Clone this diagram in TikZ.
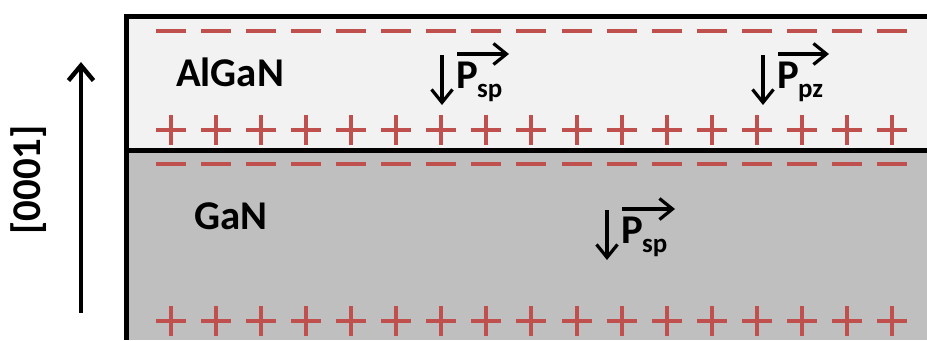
\documentclass[tikz,border=0pt]{standalone}
\usepackage{fontspec}
\setmainfont{Carlito}
\usetikzlibrary{arrows.meta}
\definecolor{chg}{HTML}{C0504D}
\definecolor{alganfill}{HTML}{F2F2F2}
\definecolor{ganfill}{HTML}{BFBFBF}
\tikzset{
  border/.style={line width=5bp, line join=miter},
  charge/.style={chg, line width=4bp},
  big/.style={inner sep=0pt, font=\fontsize{41}{41}\selectfont\bfseries},
  sub/.style={inner sep=0pt, font=\fontsize{27}{27}\selectfont\bfseries},
  polarrow/.style={line width=3.2bp, -{Straight Barb[length=13bp,width=21bp,line width=3.2bp]}},
  axisarrow/.style={line width=4.5bp, -{Straight Barb[length=15bp,width=25bp,line width=4.5bp]}}
}
\begin{document}
\begin{tikzpicture}[x=1bp,y=-1bp]
\useasboundingbox (0,0) rectangle (927,340);
\fill[white] (0,0) rectangle (927,340);
\fill[alganfill] (126,16) rectangle (927,150);
\fill[ganfill] (126,150) rectangle (927,340);
\draw[border] (126,340) -- (126,16.5) -- (927,16.5);
\draw[border] (126,150.5) -- (927,150.5);
% charges
\foreach \k in {0,...,16} {
  \pgfmathsetmacro\xx{171+45.06*\k}
  \draw[charge] (\xx-15,31) -- (\xx+15,31);
  \draw[charge] (\xx-15,164) -- (\xx+15,164);
  \draw[charge] (\xx-15,130) -- (\xx+15,130) (\xx,115) -- (\xx,145);
  \draw[charge] (\xx-15,321) -- (\xx+15,321) (\xx,306) -- (\xx,336);
}
% growth axis
\coordinate (axb) at (81,313);
\coordinate (axt) at (81,62);
\draw[axisarrow] (axb) -- (axt);
\node[big, rotate=90] (dir) at (29,180) {[0001]};
% layer labels
\node[big, anchor=base] (algan) at (230,86) {AlGaN};
\node[big, anchor=base] (gan) at (231,229) {GaN};
% AlGaN Psp
\coordinate (d1a) at (442,55); \coordinate (d1b) at (442,105);
\draw[polarrow] (d1a) -- (d1b);
\node[big, anchor=base west] (p1) at (456,88) {P};
\node[sub, anchor=base west] (s1) at (477,97) {sp};
\coordinate (o1a) at (457,54); \coordinate (o1b) at (509,54);
\draw[polarrow] (o1a) -- (o1b);
% AlGaN Ppz
\coordinate (d2a) at (763,55); \coordinate (d2b) at (763,105);
\draw[polarrow] (d2a) -- (d2b);
\node[big, anchor=base west] (p2) at (777,88) {P};
\node[sub, anchor=base west] (s2) at (798,97) {pz};
\coordinate (o2a) at (778,54); \coordinate (o2b) at (829,54);
\draw[polarrow] (o2a) -- (o2b);
% GaN Psp
\coordinate (d3a) at (607,210); \coordinate (d3b) at (607,260);
\draw[polarrow] (d3a) -- (d3b);
\node[big, anchor=base west] (p3) at (621,243) {P};
\node[sub, anchor=base west] (s3) at (642,252) {sp};
\coordinate (o3a) at (622,209); \coordinate (o3b) at (675,209);
\draw[polarrow] (o3a) -- (o3b);
\end{tikzpicture}
\end{document}
